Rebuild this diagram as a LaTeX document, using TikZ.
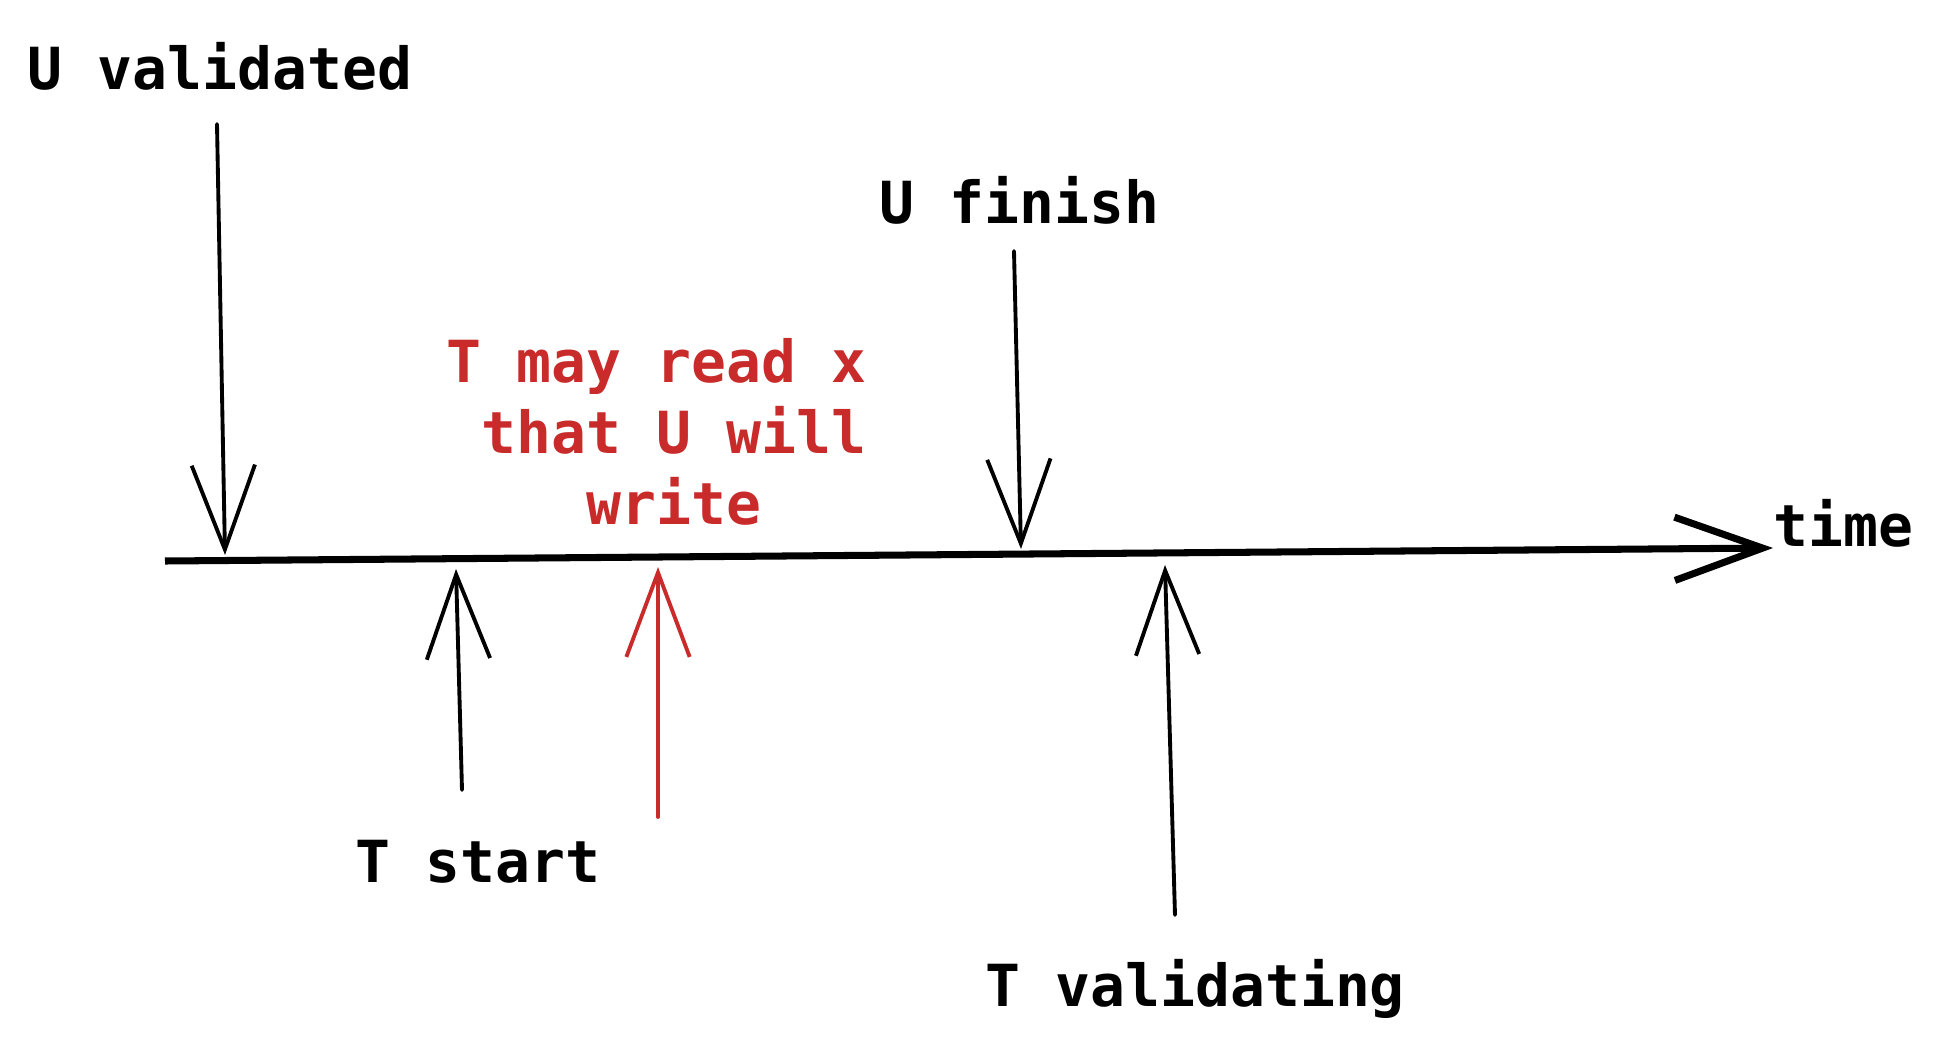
\documentclass[tikz,border=0pt]{standalone}
\usepackage{fontspec}
\setmonofont{DejaVu Sans Mono}
\usetikzlibrary{arrows.meta}
\definecolor{notered}{RGB}{201,42,42}
\begin{document}
\begin{tikzpicture}[x=0.01cm,y=-0.01cm]


\tikzset{
	caption/.style={font=\ttfamily\bfseries\fontsize{16.5}{20.2}\selectfont, inner sep=0pt, anchor=base west},
	event/.style={line width=1.1pt, line cap=round, -{Straight Barb[length=24pt,width=18pt,line width=1.1pt]}},
	axis/.style={line width=2pt, -{Straight Barb[length=25pt,width=18pt,line width=2pt]}}
}

\useasboundingbox (0,0) rectangle (1947,1048);

% time axis
\coordinate (t0) at (165,561);
\coordinate (t1) at (1773,548);
\draw[axis] (t0) -- (t1);
\node[caption] (time) at (1773,546) {time};

% U validated
\node[caption] (uval) at (27,89) {U validated};
\coordinate (uvalA) at (217,124);
\coordinate (uvalB) at (225,555);
\draw[event] (uvalA) -- (uvalB);

% U finish
\node[caption] (ufin) at (879,223) {U finish};
\coordinate (ufinA) at (1014,251);
\coordinate (ufinB) at (1021,549);
\draw[event] (ufinA) -- (ufinB);

% T start
\node[caption] (tstart) at (355,882) {T start};
\coordinate (tstartA) at (462,790);
\coordinate (tstartB) at (456,569);
\draw[event] (tstartA) -- (tstartB);

% T may read x
\node[caption, notered, align=center, anchor=north] (tread) at (674,338)
  {T may read x\hphantom{x}\\that U will\\write};
\coordinate (treadA) at (658,817);
\coordinate (treadB) at (658,567);
\draw[event, notered] (treadA) -- (treadB);

% T validating
\node[caption] (tval) at (985,1006) {T validating};
\coordinate (tvalA) at (1175,915);
\coordinate (tvalB) at (1165,565);
\draw[event] (tvalA) -- (tvalB);

\end{tikzpicture}
\end{document}
